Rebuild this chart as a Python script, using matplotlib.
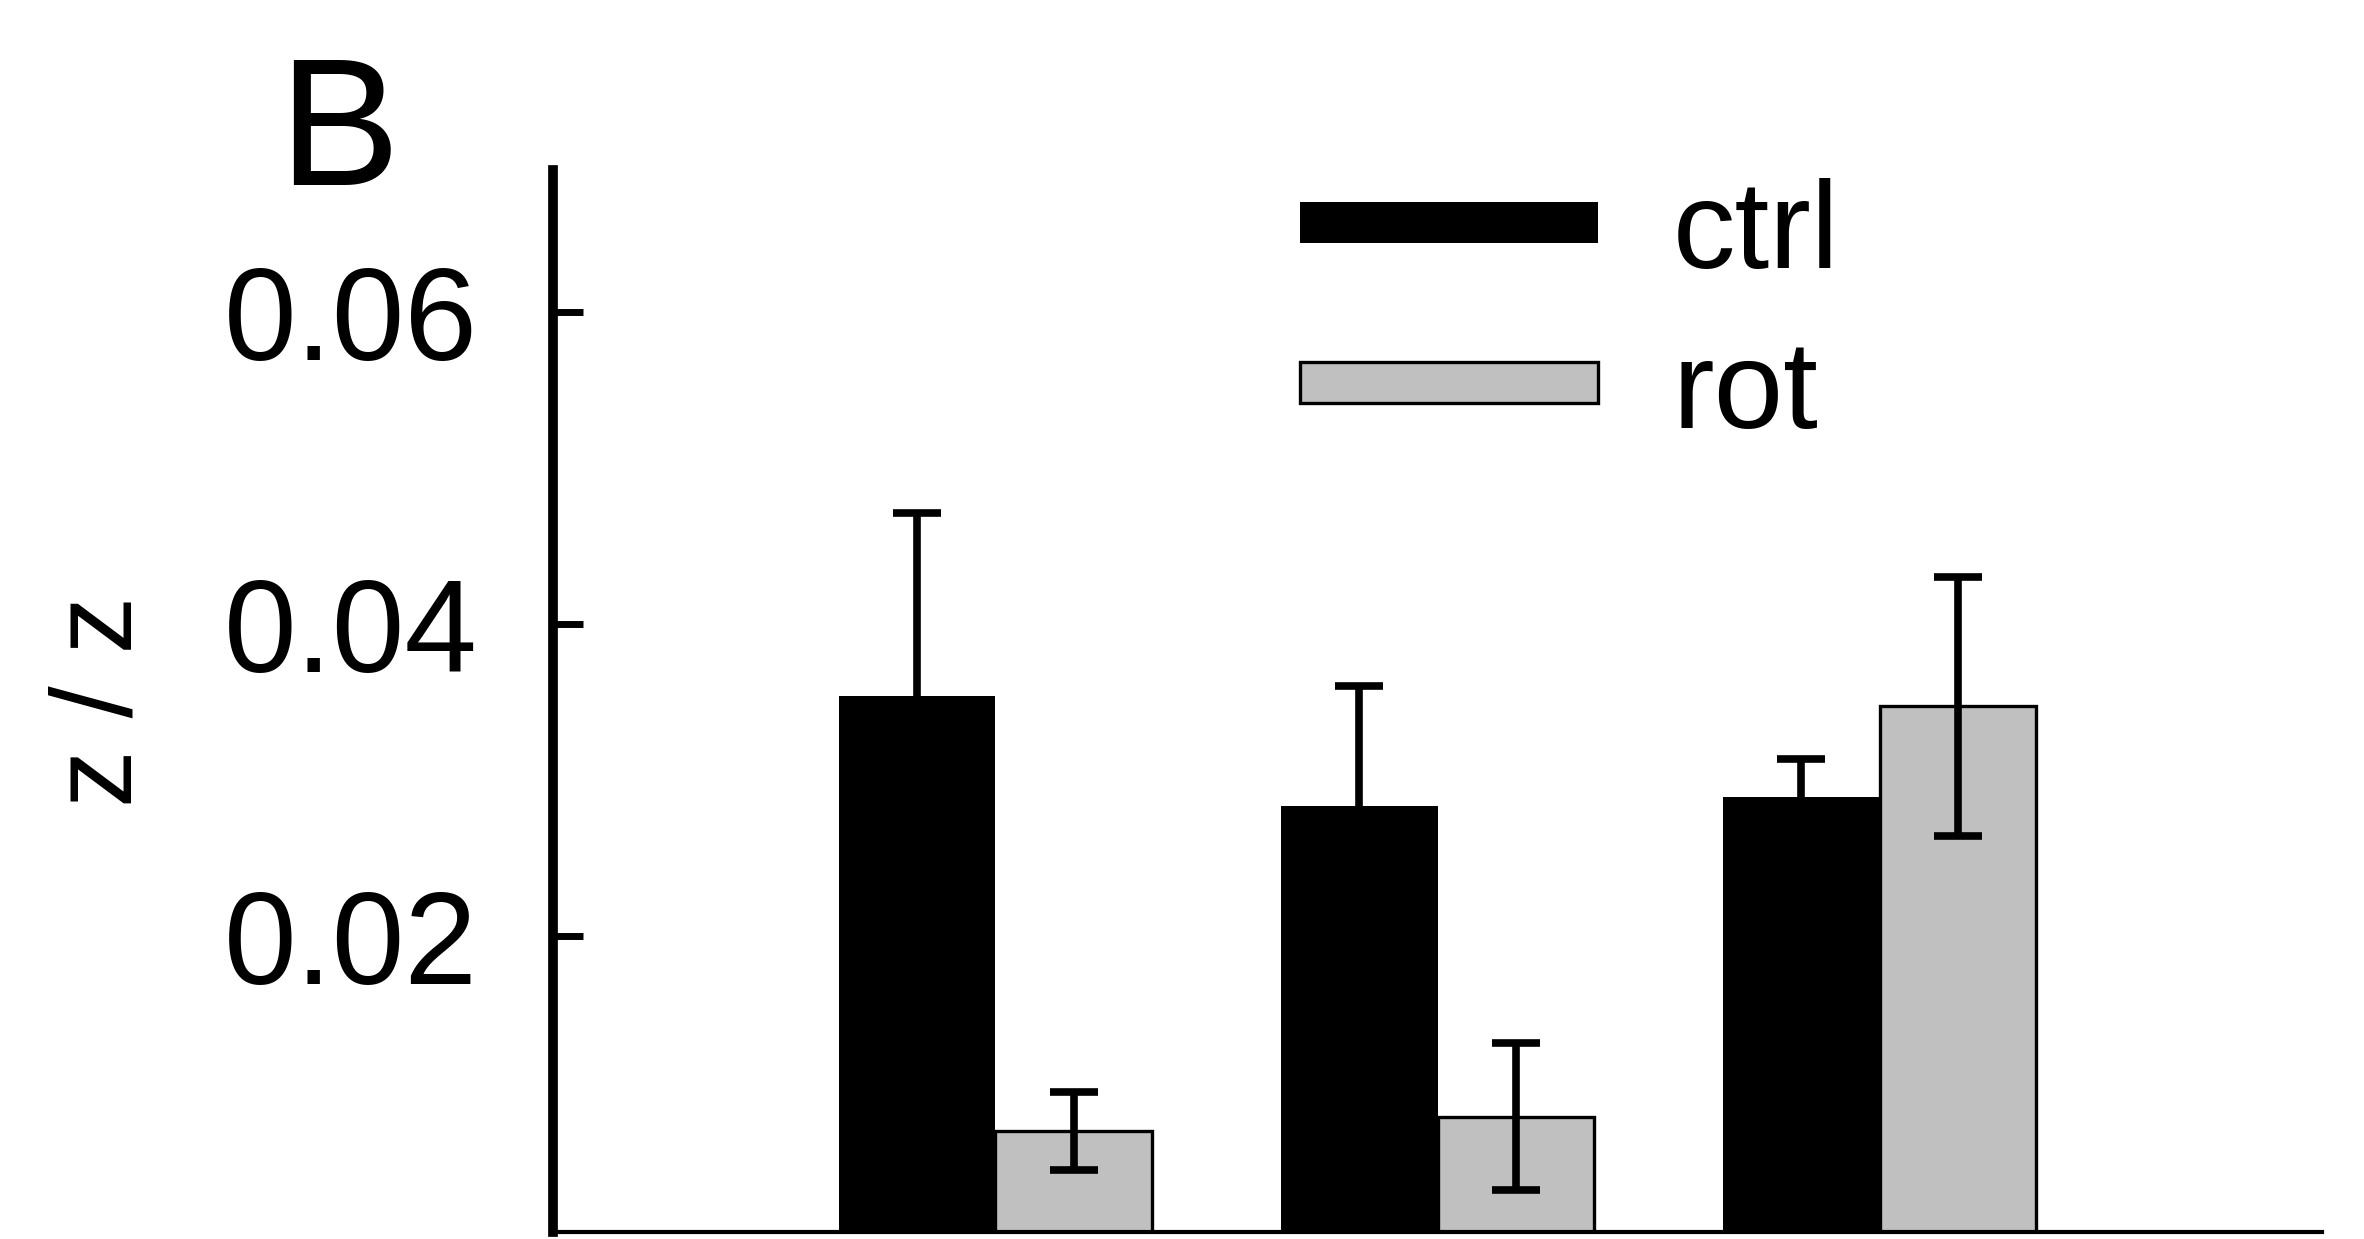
import matplotlib
matplotlib.use("Agg")
import matplotlib.pyplot as plt
import numpy as np
from matplotlib.patches import Patch

plt.rcParams['font.family'] = ['Liberation Sans', 'DejaVu Sans']

# Data
groups = ["1", "2", "3"]
ctrl_vals = [0.0354, 0.0283, 0.0289]
ctrl_err = [0.0117, 0.0077, 0.0024]
rot_vals = [0.0075, 0.0084, 0.0347]
rot_err = [0.0025, 0.0047, 0.0083]
series_labels = ["ctrl", "rot"]
yticks = [0.02, 0.04, 0.06]
ytick_labels = ["0.02", "0.04", "0.06"]

fig = plt.figure(figsize=(23.64, 12.39), dpi=100)
ax = fig.add_axes([553/2364, 7/1239, (2322-553)/2364, (1232-170)/1239])

x = np.arange(1, len(groups) + 1)
w = 0.354
ax.bar(x - w/2, ctrl_vals, width=w, color='black', edgecolor='black', linewidth=0,
       label=series_labels[0], zorder=2)
ax.bar(x + w/2, rot_vals, width=w, color='#C0C0C0', edgecolor='black', linewidth=2.4,
       label=series_labels[1], zorder=2)
ax.errorbar(x - w/2, ctrl_vals, yerr=ctrl_err, fmt='none', ecolor='black',
            elinewidth=5.5, capsize=17, capthick=5.5, zorder=3)
ax.errorbar(x + w/2, rot_vals, yerr=rot_err, fmt='none', ecolor='black',
            elinewidth=5.5, capsize=17, capthick=5.5, zorder=3)

ax.set_xlim(0, 4)
ax.set_ylim(0.001, 0.0691)
ax.set_xticks([])
ax.set_yticks(yticks)
ax.set_yticklabels(ytick_labels)
ax.tick_params(axis='y', direction='in', length=21.6, width=5, pad=54, labelsize=94)
ax.spines['top'].set_visible(False)
ax.spines['right'].set_visible(False)
ax.spines['left'].set_linewidth(7)
ax.spines['bottom'].set_linewidth(3)

handles = [Patch(facecolor='black', edgecolor='black', linewidth=0),
           Patch(facecolor='#C0C0C0', edgecolor='black', linewidth=2.4)]
leg = ax.legend(handles, series_labels, loc='upper left',
                bbox_to_anchor=((1300-553)/1769, (1232-178)/1062),
                frameon=False, fontsize=90, handlelength=2.38, handleheight=0.127,
                handletextpad=0.6, labelspacing=0.35, borderpad=0, borderaxespad=0)

fig.text(339/2364, 1 - 185/1239, "B", fontsize=131, ha='center', va='baseline')
fig.text(102/2364, 1 - 701/1239, "z / z", fontsize=83, rotation=90, ha='center', va='center')

fig.savefig("out.png", dpi=100)
